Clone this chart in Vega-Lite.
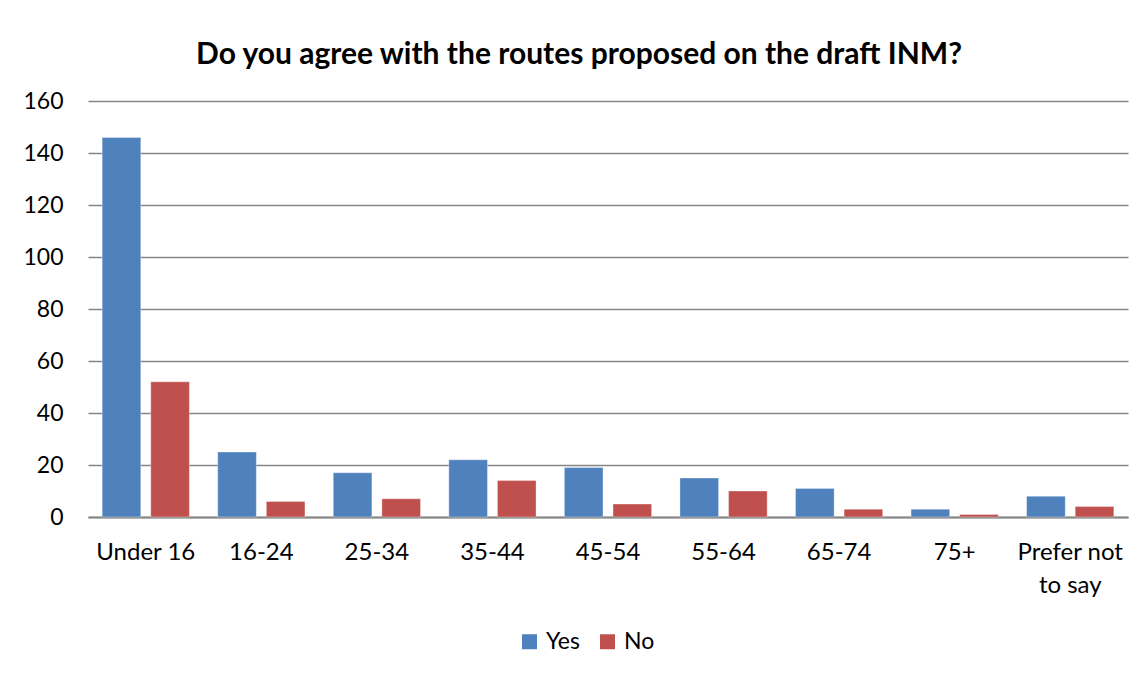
{
  "$schema": "https://vega.github.io/schema/vega-lite/v6.json",
  "width": 1040,
  "height": 416,
  "autosize": {"type": "none"},
  "padding": {"left": 88, "top": 101, "right": 18, "bottom": 158},
  "background": "white",
  "title": {
    "text": "Do you agree with the routes proposed on the draft INM?",
    "font": "Lato",
    "fontSize": 30,
    "fontWeight": "bold",
    "color": "black",
    "anchor": "middle",
    "dx": -29,
    "offset": 20
  },
  "data": {
    "values": [
      {"age": "Under 16", "answer": "Yes", "count": 146},
      {"age": "Under 16", "answer": "No", "count": 52},
      {"age": "16-24", "answer": "Yes", "count": 25},
      {"age": "16-24", "answer": "No", "count": 6},
      {"age": "25-34", "answer": "Yes", "count": 17},
      {"age": "25-34", "answer": "No", "count": 7},
      {"age": "35-44", "answer": "Yes", "count": 22},
      {"age": "35-44", "answer": "No", "count": 14},
      {"age": "45-54", "answer": "Yes", "count": 19},
      {"age": "45-54", "answer": "No", "count": 5},
      {"age": "55-64", "answer": "Yes", "count": 15},
      {"age": "55-64", "answer": "No", "count": 10},
      {"age": "65-74", "answer": "Yes", "count": 11},
      {"age": "65-74", "answer": "No", "count": 3},
      {"age": "75+", "answer": "Yes", "count": 3},
      {"age": "75+", "answer": "No", "count": 1},
      {"age": "Prefer not to say", "answer": "Yes", "count": 8},
      {"age": "Prefer not to say", "answer": "No", "count": 4}
    ]
  },
  "mark": {"type": "bar", "stroke": "#ffffff", "strokeOpacity": 0.35, "strokeWidth": 1},
  "encoding": {
    "x": {
      "field": "age",
      "type": "nominal",
      "sort": null,
      "title": null,
      "scale": {"paddingInner": 0.245, "paddingOuter": 0.1225},
      "axis": {
        "labelAngle": 0,
        "labelFont": "Lato",
        "labelFontSize": 24,
        "labelColor": "black",
        "labelPadding": 35,
        "labelBaseline": "middle",
        "labelLineHeight": 33,
        "labelExpr": "datum.value == 'Prefer not to say' ? ['Prefer not', 'to say'] : datum.value",
        "ticks": false,
        "domainColor": "#868686",
        "domainWidth": 2,
        "grid": false
      }
    },
    "xOffset": {
      "field": "answer",
      "type": "nominal",
      "sort": ["Yes", "No"],
      "scale": {"paddingInner": 0.205}
    },
    "y": {
      "field": "count",
      "type": "quantitative",
      "title": null,
      "scale": {"domain": [0, 160], "nice": false},
      "axis": {
        "values": [0, 20, 40, 60, 80, 100, 120, 140, 160],
        "labelFont": "Lato",
        "labelFontSize": 23,
        "labelColor": "black",
        "labelPadding": 25,
        "ticks": false,
        "domain": false,
        "gridColor": "#868686",
        "gridWidth": 1.5
      }
    },
    "color": {
      "field": "answer",
      "type": "nominal",
      "sort": ["Yes", "No"],
      "title": null,
      "scale": {"domain": ["Yes", "No"], "range": ["#4F81BD", "#C0504D"]},
      "legend": {
        "orient": "none",
        "legendX": 430,
        "legendY": 529,
        "direction": "horizontal",
        "symbolType": "square",
        "symbolSize": 225,
        "symbolStrokeWidth": 0,
        "labelFont": "Lato",
        "labelFontSize": 23,
        "labelColor": "black",
        "labelOffset": 5,
        "columnPadding": 16,
        "padding": 0
      }
    }
  },
  "config": {
    "view": {"stroke": null}
  }
}
